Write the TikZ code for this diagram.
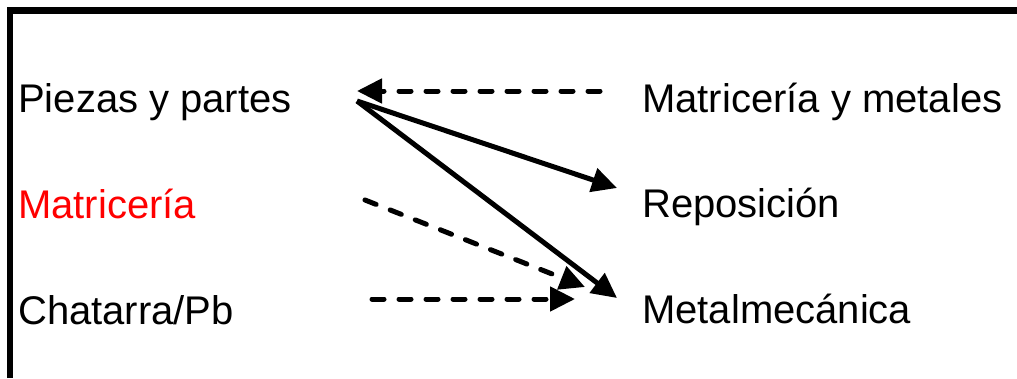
\documentclass[tikz,border=0pt]{standalone}
\usepackage{fontspec}
\setmainfont{Liberation Sans}
\usetikzlibrary{positioning,arrows.meta}

\begin{document}
\begin{tikzpicture}[
x=1pt,y=-1pt,
lbl/.style={
  anchor=base west,
  inner sep=0pt,
  font=\fontsize{40}{48}\selectfont},
flow/.style={
  line width=5pt,
  -{Triangle[length=25pt,width=24pt]}},
weakflow/.style={
  flow,
  line cap=round,
  dash pattern=on 12pt off 15pt}
]
\useasboundingbox (0,0) rectangle (1017,378);
\draw[line width=6.5pt] (10,378) -- (10,10.5) -- (1017,10.5);
% left column
\node[lbl] (piezas) at (18,112) {Piezas y partes};
\node[lbl,text=red] (matric) at (18,218) {Matricería};
\node[lbl] (chatarra) at (18,324) {Chatarra/Pb};
% right column
\node[lbl] (matmet) at (642,112) {Matricería y metales};
\node[lbl] (repos) at (642,217) {Reposición};
\node[lbl] (metal) at (642,323) {Metalmecánica};
% arrow ends
\coordinate (pzIn) at (357,91);
\coordinate (pzOut) at (357,101);
\coordinate (mmOut) at (600,91);
\coordinate (rpIn) at (617,188);
\coordinate (mtIn) at (617,298);
\coordinate (maOut) at (365,200);
\coordinate (maIn) at (585,287);
\coordinate (chOut) at (372,299);
\coordinate (chIn) at (575,299);
\draw[weakflow] (mmOut) -- (pzIn);
\draw[flow] (pzOut) -- (rpIn);
\draw[flow] (pzOut) -- (mtIn);
\draw[weakflow] (maOut) -- (maIn);
\draw[weakflow] (chOut) -- (chIn);
\end{tikzpicture}
\end{document}
